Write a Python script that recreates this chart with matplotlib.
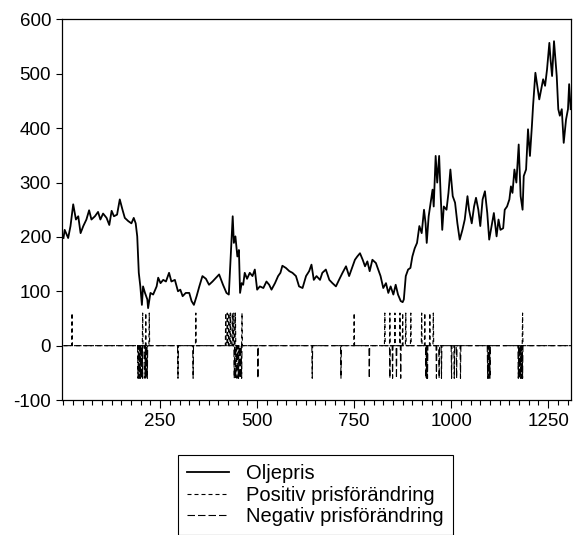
import numpy as np
import matplotlib
matplotlib.use("Agg")
import matplotlib.pyplot as plt
from matplotlib.ticker import MultipleLocator

plt.rcParams['font.family'] = ['Liberation Sans', 'DejaVu Sans']
plt.rcParams['axes.unicode_minus'] = False

# oil price, observation number -> price
obs = [1, 4, 13, 19, 26, 33, 39, 45, 52, 60, 67, 73, 82, 90, 96, 103, 112, 119,
       125, 131, 139, 146, 153, 159, 168, 176, 182, 187, 191, 195, 199, 203, 206,
       211, 217, 219, 225, 232, 241, 245, 251, 258, 265, 273, 279, 288, 296, 302,
       308, 316, 325, 331, 337, 344, 351, 359, 368, 376, 385, 394, 402, 412, 421,
       427, 431, 437, 440, 444, 449, 453, 456, 460, 464, 468, 474, 481, 488, 494,
       500, 507, 516, 524, 531, 537, 546, 554, 560, 565, 574, 583, 591, 600, 608,
       617, 626, 634, 640, 646, 653, 662, 668, 677, 686, 694, 703, 711, 720, 729,
       737, 746, 752, 758, 765, 772, 778, 784, 790, 797, 806, 812, 818, 825, 832,
       838, 844, 851, 857, 863, 870, 875, 878, 883, 889, 895, 900, 906, 912, 918,
       924, 930, 934, 937, 942, 947, 952, 955, 960, 964, 969, 973, 977, 981, 988,
       993, 998, 1004, 1010, 1016, 1022, 1029, 1035, 1042, 1046, 1053, 1059, 1064,
       1070, 1075, 1081, 1087, 1093, 1098, 1104, 1110, 1117, 1122, 1127, 1134,
       1138, 1144, 1150, 1154, 1158, 1163, 1168, 1174, 1179, 1184, 1187, 1193,
       1198, 1203, 1208, 1211, 1217, 1222, 1227, 1232, 1237, 1242, 1247, 1253,
       1256, 1260, 1265, 1268, 1272, 1276, 1280, 1285, 1290, 1296, 1301, 1304,
       1308]
oljepris = [198, 213, 198, 220, 260, 232, 238, 207, 220, 232, 249, 232, 238, 246,
            232, 243, 235, 222, 248, 238, 241, 269, 250, 235, 229, 225, 235, 225,
            201, 134, 109, 75, 109, 97, 85, 69, 97, 94, 109, 125, 115, 121, 118,
            134, 118, 121, 100, 103, 91, 97, 97, 82, 75, 91, 109, 128, 123, 112,
            118, 125, 131, 112, 97, 94, 152, 238, 189, 201, 164, 176, 97, 115, 112,
            134, 123, 134, 128, 140, 103, 109, 106, 118, 112, 103, 115, 128, 134,
            147, 143, 137, 134, 128, 109, 106, 128, 137, 149, 121, 128, 121, 134,
            140, 121, 115, 109, 121, 134, 146, 128, 146, 158, 164, 170, 158, 146,
            155, 137, 158, 152, 140, 128, 106, 115, 97, 109, 94, 112, 94, 82, 80,
            85, 128, 140, 143, 164, 179, 189, 220, 207, 250, 225, 189, 238, 263,
            287, 256, 349, 300, 349, 275, 213, 256, 250, 281, 324, 275, 263, 225,
            195, 213, 232, 275, 250, 225, 256, 272, 250, 220, 269, 284, 244, 195,
            220, 244, 201, 232, 213, 216, 250, 256, 269, 293, 281, 324, 300, 370,
            275, 250, 312, 324, 398, 349, 404, 441, 502, 478, 453, 472, 490, 478,
            508, 557, 527, 496, 560, 533, 496, 435, 423, 435, 373, 416, 435, 481,
            435]

# dummy series: +60 on days with a positive price shock, -60 on negative ones
n_obs = 1310
pos_days = [23, 205, 213, 222, 342, 419, 423, 427, 431, 436, 440, 444, 461,
            750, 829, 842, 855, 868, 875, 883, 896, 924, 932, 945, 954, 1184]
neg_days = [193, 196, 199, 202, 205, 211, 214, 217, 296, 335, 441, 444, 448,
            452, 456, 460, 502, 642, 716, 789, 842, 849, 859, 870, 935, 937,
            939, 962, 969, 975, 1001, 1008, 1014, 1024, 1094, 1097, 1100, 1173,
            1176, 1179, 1182, 1184]

t = np.arange(1, n_obs + 1)
positiv = np.zeros(n_obs)
positiv[np.array(pos_days) - 1] = 60
negativ = np.zeros(n_obs)
negativ[np.array(neg_days) - 1] = -60

fig = plt.figure(figsize=(5.79, 5.35), dpi=100)
ax = fig.add_axes([0.107, 0.2523, 0.88, 0.7113])

ax.plot(obs, oljepris, color='black', lw=1.3, label='Oljepris')
ax.plot(t, positiv, color='black', lw=0.8, dashes=(3.6, 2.7),
        label='Positiv prisförändring')
ax.plot(t, negativ, color='black', lw=0.8, dashes=(6.75, 2.7),
        label='Negativ prisförändring')

ax.set_xlim(-3, 1310)
ax.set_ylim(-100, 600)
ax.set_yticks([-100, 0, 100, 200, 300, 400, 500, 600])
ax.set_xticks([250, 500, 750, 1000, 1250])
ax.xaxis.set_minor_locator(MultipleLocator(25))

for s in ax.spines.values():
    s.set_linewidth(0.9)
ax.tick_params(axis='both', which='major', direction='out', labelsize=13.5,
               width=0.8, color='black')
ax.tick_params(axis='y', length=4.3, pad=3.5)
ax.tick_params(axis='x', which='major', length=6, pad=3)
ax.tick_params(axis='x', which='minor', length=3.5, width=0.8)

fig.legend(loc='upper left', bbox_to_anchor=(0.307, 0.1495), fontsize=14.5,
           frameon=True, fancybox=False, edgecolor='black', framealpha=1,
           handlelength=2.1, handletextpad=0.85, borderpad=0.45,
           labelspacing=0.13, borderaxespad=0)
fig.legends[0].get_frame().set_linewidth(0.8)

fig.savefig('out.png', dpi=100)
